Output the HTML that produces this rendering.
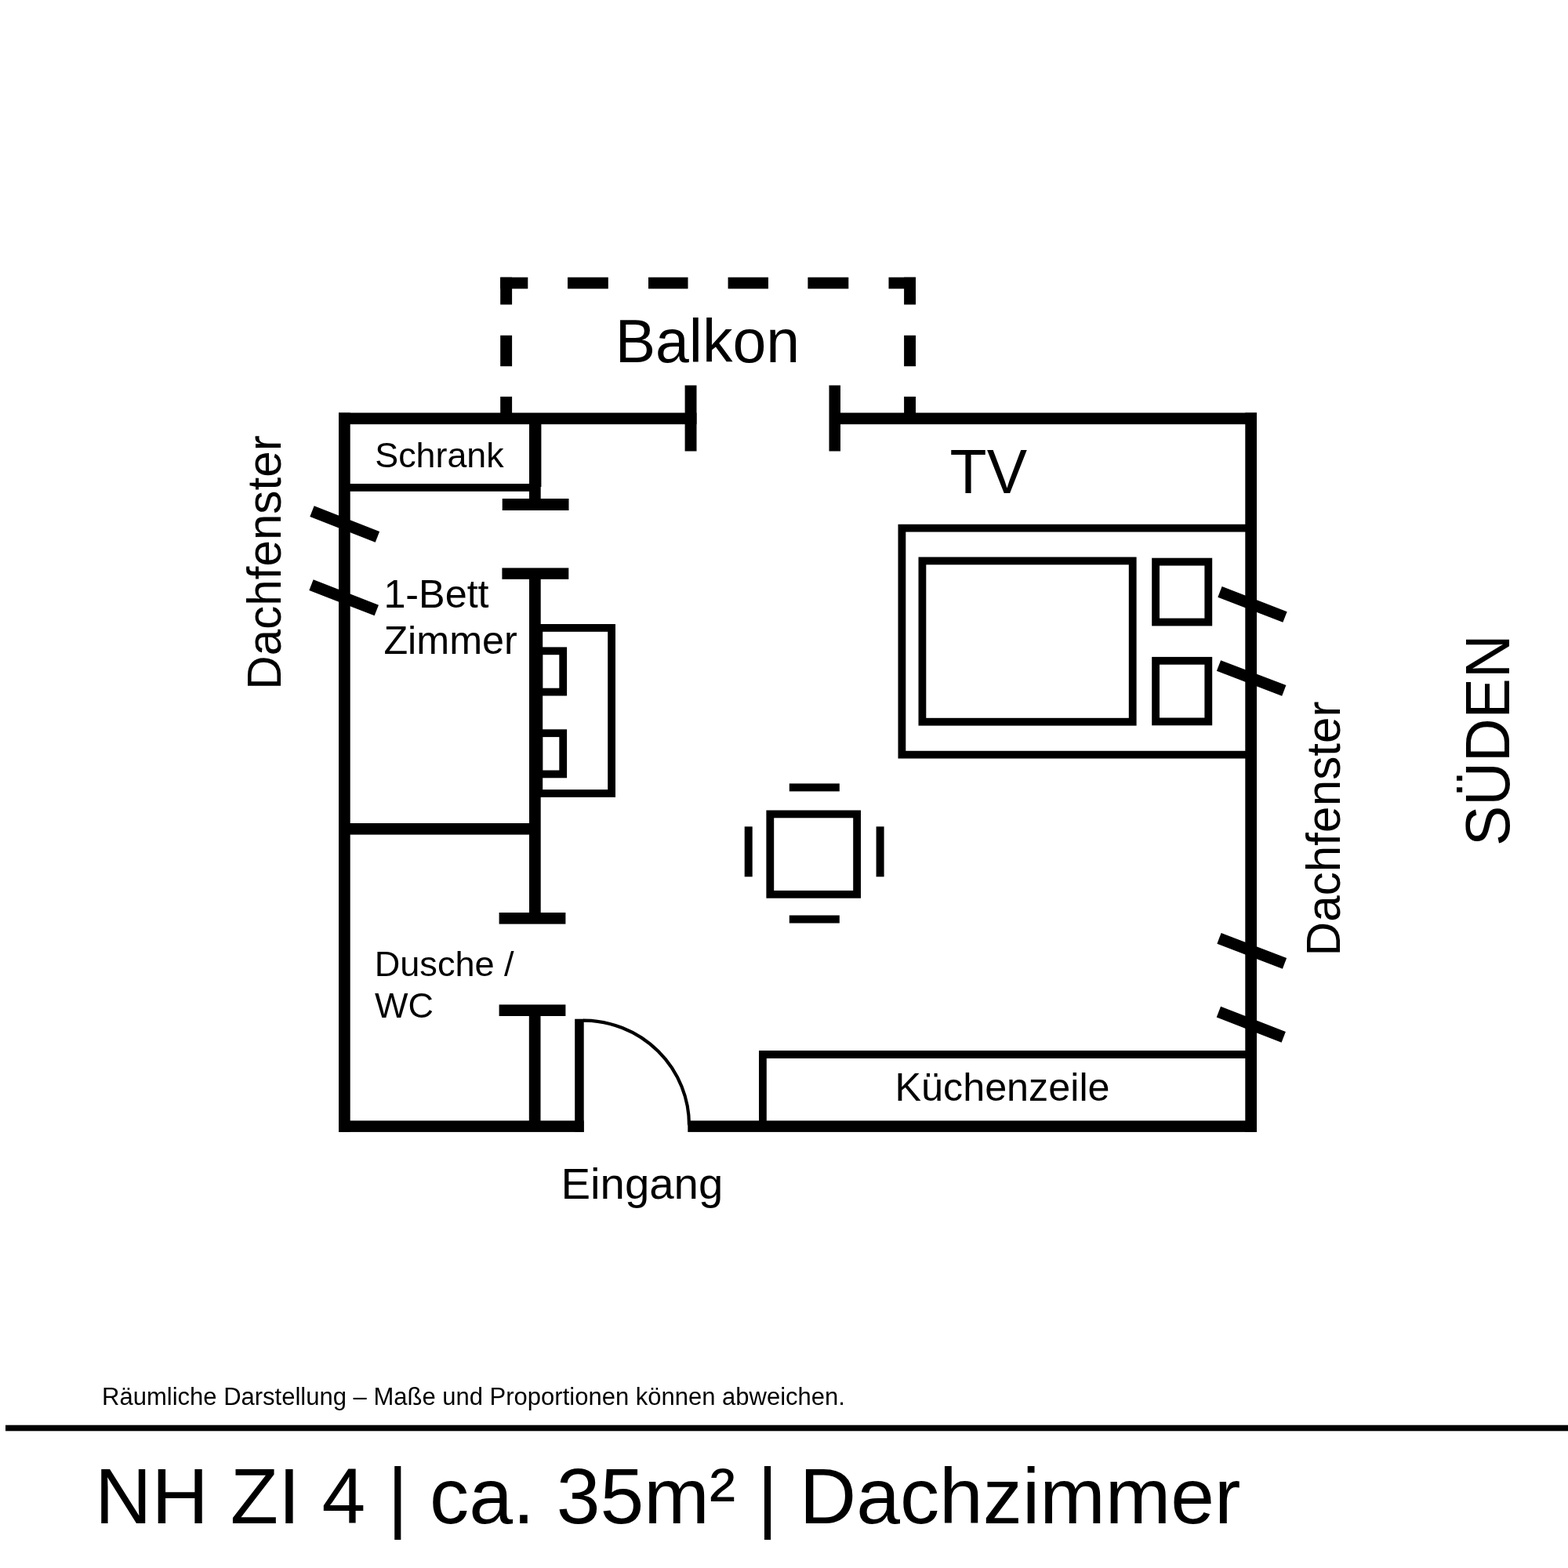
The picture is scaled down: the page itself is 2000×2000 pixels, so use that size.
<!DOCTYPE html>
<html lang="de">
<head>
<meta charset="utf-8">
<title>NH ZI 4 | ca. 35m² | Dachzimmer</title>
<style>
  html, body { margin: 0; padding: 0; background: #ffffff; }
  body { width: 2000px; height: 2000px; overflow: hidden; }
  svg { display: block; will-change: transform; }
  text { font-family: "Liberation Sans", Arial, Helvetica, sans-serif; fill: #000000; }
</style>
</head>
<body>
<svg width="2000" height="2000" viewBox="0 0 2000 2000">
  <rect x="0" y="0" width="2000" height="2000" fill="#ffffff"/>

  <!-- Balkon (dashed outline) -->
  <g fill="#000000">
    <!-- top dashes -->
    <rect x="638.2" y="353.7" width="35.1" height="14.6"/>
    <rect x="724" y="353.7" width="51.8" height="14.6"/>
    <rect x="827" y="353.7" width="50.5" height="14.6"/>
    <rect x="928.6" y="353.7" width="51.4" height="14.6"/>
    <rect x="1030.4" y="353.7" width="51.9" height="14.6"/>
    <rect x="1133.5" y="353.7" width="34.5" height="14.6"/>
    <!-- left dashes -->
    <rect x="638.2" y="353.7" width="14.9" height="34.8"/>
    <rect x="638.2" y="427.8" width="14.9" height="39.4"/>
    <rect x="638.2" y="505.9" width="14.9" height="22"/>
    <!-- right dashes -->
    <rect x="1153.1" y="353.7" width="14.9" height="34.8"/>
    <rect x="1153.1" y="427.8" width="14.9" height="39.4"/>
    <rect x="1153.1" y="505.9" width="14.9" height="22"/>
  </g>

  <!-- Outer walls -->
  <g fill="#000000">
    <rect x="432" y="526.5" width="14.7" height="917.4"/>
    <rect x="1588.3" y="526.5" width="14.7" height="917.4"/>
    <rect x="432" y="526.5" width="456.5" height="14.7"/>
    <rect x="1060" y="526.5" width="543" height="14.7"/>
    <rect x="432" y="1429.4" width="312.7" height="14.5"/>
    <rect x="877.3" y="1429.4" width="725.7" height="14.5"/>
    <!-- balcony door jambs -->
    <rect x="873.6" y="491.5" width="14.9" height="84"/>
    <rect x="1057.5" y="491.5" width="14.5" height="84"/>
  </g>

  <!-- Interior walls -->
  <g fill="#000000">
    <rect x="675" y="541" width="15.4" height="80"/>
    <rect x="675" y="617" width="14.7" height="24"/>
    <rect x="640.7" y="636" width="84.8" height="15"/>
    <rect x="640.4" y="724.4" width="84.9" height="14.4"/>
    <rect x="675" y="730" width="14.7" height="440"/>
    <rect x="636.6" y="1164" width="84.8" height="14.6"/>
    <rect x="636.6" y="1281.4" width="84.8" height="14.6"/>
    <rect x="674.8" y="1290" width="14.7" height="145"/>
    <rect x="440" y="1050" width="240" height="14.6"/>
    <!-- Schrank shelf line -->
    <rect x="440" y="617" width="240" height="9.8"/>
  </g>

  <!-- Single bed -->
  <g fill="none" stroke="#000000" stroke-width="9.8">
    <rect x="687.3" y="800.9" width="92.8" height="211.1"/>
    <rect x="687.3" y="830.3" width="30.9" height="52.3"/>
    <rect x="687.3" y="935.2" width="30.9" height="52.2"/>
  </g>

  <!-- Double bed -->
  <g fill="none" stroke="#000000" stroke-width="9.8">
    <path d="M 1595 673.6 H 1150.4 V 962.6 H 1595"/>
    <rect x="1176.4" y="715.4" width="268.3" height="205.3"/>
    <rect x="1474.1" y="716.6" width="67.2" height="76.9"/>
    <rect x="1474.1" y="842.8" width="67.2" height="77.6"/>
  </g>

  <!-- Table and chairs -->
  <g>
    <rect x="982.3" y="1038.4" width="110.8" height="102.4" fill="none" stroke="#000000" stroke-width="9.8"/>
    <rect x="1006.8" y="999.4" width="64" height="10" fill="#000000"/>
    <rect x="1006.8" y="1167.5" width="64" height="10" fill="#000000"/>
    <rect x="949.7" y="1054.3" width="10" height="64" fill="#000000"/>
    <rect x="1117.6" y="1054.3" width="10" height="64" fill="#000000"/>
  </g>

  <!-- Kitchen -->
  <path d="M 972.9 1436 V 1345 H 1595" fill="none" stroke="#000000" stroke-width="9.8"/>

  <!-- Entrance door -->
  <rect x="733.2" y="1299.7" width="11.5" height="144.1" fill="#000000"/>
  <path d="M 744 1301.6 A 135 133.6 0 0 1 879 1435.2" fill="none" stroke="#000000" stroke-width="4.2"/>

  <!-- Roof windows (Dachfenster marks) -->
  <g stroke="#000000" stroke-width="14.7" stroke-linecap="butt">
    <line x1="398" y1="652.1" x2="481.4" y2="684.8"/>
    <line x1="397" y1="746.2" x2="480.3" y2="778.5"/>
    <line x1="1556" y1="754.9" x2="1639" y2="787"/>
    <line x1="1554.5" y1="849" x2="1637.8" y2="880.8"/>
    <line x1="1555" y1="1196.9" x2="1638.5" y2="1228.8"/>
    <line x1="1554.4" y1="1290.7" x2="1637.2" y2="1322.8"/>
  </g>

  <!-- Labels -->
  <text x="784.7" y="462" font-size="77">Balkon</text>
  <text transform="translate(1211.6 629.3) scale(1 1.045)" font-size="77">TV</text>
  <text x="478.3" y="596" font-size="44.8">Schrank</text>
  <text x="489.4" y="775" font-size="50.3">1-Bett</text>
  <text x="489.4" y="834" font-size="50.3">Zimmer</text>
  <text x="477.7" y="1245" font-size="45.1">Dusche /</text>
  <text x="478" y="1298" font-size="45">WC</text>
  <text x="1141.5" y="1404" font-size="50.3">Küchenzeile</text>
  <text x="715.4" y="1529" font-size="56.4">Eingang</text>
  <text transform="translate(358.2 879.8) rotate(-90)" font-size="60.2">Dachfenster</text>
  <text transform="translate(1708.6 1219.4) rotate(-90)" font-size="60.3">Dachfenster</text>
  <text transform="translate(1924.6 1079) rotate(-90) scale(1 1.045)" font-size="77">SÜDEN</text>

  <!-- Footer -->
  <text x="130.1" y="1792" font-size="31">Räumliche Darstellung – Maße und Proportionen können abweichen.</text>
  <rect x="7" y="1817.7" width="1993" height="7.6" fill="#000000"/>
  <text x="121" y="1943" font-size="100.25">NH ZI 4 | ca. 35m² | Dachzimmer</text>
</svg>
</body>
</html>
